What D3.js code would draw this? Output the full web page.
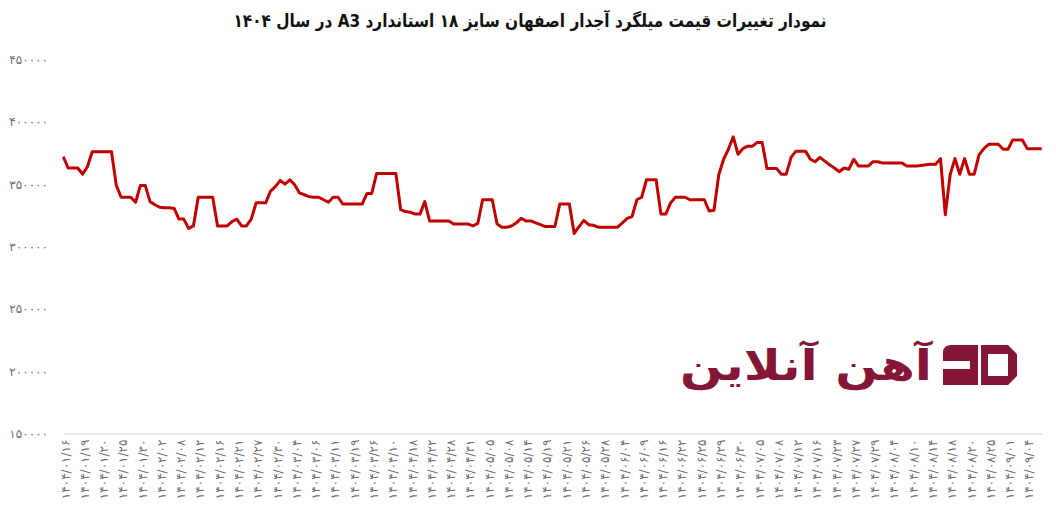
<!DOCTYPE html>
<html>
<head>
<meta charset="utf-8">
<script src="https://cdn.jsdelivr.net/npm/d3@7"></script>
<style>
  html, body { margin: 0; padding: 0; background: #ffffff; }
  svg { display: block; }
</style>
</head>
<body>
<svg id="chart" width="1056" height="512"></svg>
<script>
// ---- data ----
const chartTitle = "نمودار تغییرات قیمت میلگرد آجدار اصفهان سایز ۱۸ استاندارد A3 در سال ۱۴۰۴";

// price series (Rial), one value per record
const prices = [
  372000, 363000, 363000, 363000, 358000, 364000, 376000, 376000, 376000, 376000,
  376000, 349000, 339500, 339500, 339500, 335500, 349000, 349000, 336000, 333500,
  331500, 331000, 331000, 330500, 322000, 322000, 314500, 316500, 339500, 339500,
  339500, 339500, 316500, 316500, 316500, 320000, 322000, 316500, 316500, 322000,
  335000, 335000, 335000, 344500, 348000, 353000, 350000, 353500, 349500, 343000,
  341500, 340000, 339500, 339500, 337500, 335500, 339500, 339500, 334000, 334000,
  334000, 334000, 334000, 342500, 342500, 358500, 358500, 358500, 358500, 358500,
  329500, 328000, 327500, 326000, 326000, 336000, 320500, 320500, 320500, 320500,
  320500, 318000, 318000, 318000, 318000, 316500, 318500, 337500, 337500, 337500,
  318000, 315500, 315500, 316500, 319000, 322500, 320500, 320500, 319000, 317500,
  316000, 316000, 316000, 334000, 334000, 334000, 310500, 316000, 321000, 317500,
  317000, 315500, 315500, 315500, 315500, 315500, 319000, 322500, 324000, 337500,
  339500, 353500, 353500, 353500, 326000, 326000, 335000, 339500, 339500, 339500,
  337500, 337500, 337500, 337500, 328500, 329000, 357500, 370000, 378000, 388000,
  374000, 378500, 380500, 380500, 383500, 383500, 362500, 362500, 362500, 358000,
  358000, 371500, 376500, 376500, 376500, 370000, 368000, 371500, 368500, 365500,
  363000, 360000, 363000, 362000, 370000, 364500, 364500, 364500, 368000, 368000,
  367000, 367000, 367000, 367000, 367000, 364500, 364500, 364500, 365000, 365500,
  366000, 366000, 370500, 325500, 357500, 370500, 358000, 370500, 358000, 358000,
  373500, 378500, 382000, 382000, 382000, 378000, 378000, 385500, 385500, 385500,
  378500, 378500, 378500, 378500
];

// one date label is shown for every 4th record
const tickEvery = 4;
const tickLabels = [
  "۱۴۰۴/۰۱/۱۶", "۱۴۰۴/۰۱/۱۹", "۱۴۰۴/۰۱/۲۰", "۱۴۰۴/۰۱/۲۵", "۱۴۰۴/۰۱/۳۰",
  "۱۴۰۴/۰۲/۰۲", "۱۴۰۴/۰۲/۰۸", "۱۴۰۴/۰۲/۱۲", "۱۴۰۴/۰۲/۱۶", "۱۴۰۴/۰۲/۲۱",
  "۱۴۰۴/۰۲/۲۷", "۱۴۰۴/۰۲/۳۰", "۱۴۰۴/۰۳/۰۴", "۱۴۰۴/۰۳/۰۶", "۱۴۰۴/۰۳/۱۱",
  "۱۴۰۴/۰۳/۱۹", "۱۴۰۴/۰۳/۲۶", "۱۴۰۴/۰۴/۱۰", "۱۴۰۴/۰۴/۱۸", "۱۴۰۴/۰۴/۲۲",
  "۱۴۰۴/۰۴/۲۸", "۱۴۰۴/۰۴/۳۱", "۱۴۰۴/۰۵/۰۵", "۱۴۰۴/۰۵/۰۸", "۱۴۰۴/۰۵/۱۴",
  "۱۴۰۴/۰۵/۱۹", "۱۴۰۴/۰۵/۲۱", "۱۴۰۴/۰۵/۲۶", "۱۴۰۴/۰۵/۲۸", "۱۴۰۴/۰۶/۰۴",
  "۱۴۰۴/۰۶/۰۹", "۱۴۰۴/۰۶/۱۶", "۱۴۰۴/۰۶/۲۲", "۱۴۰۴/۰۶/۲۵", "۱۴۰۴/۰۶/۲۹",
  "۱۴۰۴/۰۶/۳۰", "۱۴۰۴/۰۷/۰۵", "۱۴۰۴/۰۷/۰۸", "۱۴۰۴/۰۷/۱۲", "۱۴۰۴/۰۷/۱۶",
  "۱۴۰۴/۰۷/۲۳", "۱۴۰۴/۰۷/۲۷", "۱۴۰۴/۰۷/۲۹", "۱۴۰۴/۰۸/۰۴", "۱۴۰۴/۰۸/۱۰",
  "۱۴۰۴/۰۸/۱۴", "۱۴۰۴/۰۸/۱۸", "۱۴۰۴/۰۸/۲۰", "۱۴۰۴/۰۸/۲۵", "۱۴۰۴/۰۹/۰۱",
  "۱۴۰۴/۰۹/۰۴"
];

const yTicks = [150000, 200000, 250000, 300000, 350000, 400000, 450000];
const brandName = "آهن آنلاین";

// ---- drawing ----
const faDigits = "۰۱۲۳۴۵۶۷۸۹";
const toFa = v => String(v).replace(/\d/g, d => faDigits[+d]);

const svg = d3.select("#chart");
const FONT = "'DejaVu Sans', sans-serif";

const x = d3.scalePoint()
  .domain(d3.range(prices.length))
  .range([63.3, 1041.7]);

const y = d3.scaleLinear()
  .domain([150000, 450000])
  .range([433.5, 59.5]);

// title
svg.append("text")
  .attr("x", 530)
  .attr("y", 27)
  .attr("text-anchor", "middle")
  .attr("direction", "rtl")
  .attr("font-family", FONT)
  .attr("font-weight", "bold")
  .attr("font-size", 18)
  .attr("textLength", 593)
  .attr("lengthAdjust", "spacingAndGlyphs")
  .attr("fill", "#111111")
  .text(chartTitle);

// watermark logo
const logo = svg.append("g").attr("fill", "#861638");
logo.append("text")
  .attr("x", 806)
  .attr("y", 380)
  .attr("text-anchor", "middle")
  .attr("direction", "rtl")
  .attr("font-family", FONT)
  .attr("font-weight", "bold")
  .attr("font-size", 42)
  .attr("textLength", 252)
  .attr("lengthAdjust", "spacingAndGlyphs")
  .text(brandName);
// icon "a"
logo.append("path")
  .attr("d", "M951,345 L978,345 L978,385 L943,385 L943,369 L970,369 L970,361 L943,361 L943,353 Q943,345 951,345 Z");
// icon "D"
logo.append("path")
  .attr("fill-rule", "evenodd")
  .attr("d", "M981,345 L1008,345 L1017,354 L1017,376 L1008,385 L981,385 Z M988,354 L988,376 L1008,376 L1008,354 Z");

// y axis
const yAxis = d3.axisLeft(y)
  .tickValues(yTicks)
  .tickSize(0)
  .tickPadding(0)
  .tickFormat(toFa);
const gy = svg.append("g").attr("transform", "translate(48,0)").call(yAxis);
gy.select(".domain").remove();
gy.selectAll("text")
  .attr("font-family", FONT)
  .attr("font-size", 12)
  .attr("fill", "#6f6f6f");

// x axis
const xAxis = d3.axisBottom(x)
  .tickValues(d3.range(0, prices.length, tickEvery))
  .tickSize(0)
  .tickSizeOuter(0)
  .tickFormat(i => tickLabels[i / tickEvery]);
const gx = svg.append("g").attr("transform", "translate(0,433.5)").call(xAxis);
gx.select(".domain").attr("stroke", "#d9d9d9").attr("stroke-width", 1);
gx.selectAll("text")
  .attr("font-family", FONT)
  .attr("font-size", 12)
  .attr("fill", "#6f6f6f")
  .attr("transform", "rotate(-90)")
  .attr("text-anchor", "end")
  .attr("x", -6)
  .attr("y", 1.5)
  .attr("dy", "0.35em");

// line
const line = d3.line()
  .x((d, i) => x(i))
  .y(d => y(d));

svg.append("path")
  .datum(prices)
  .attr("fill", "none")
  .attr("stroke", "#c00000")
  .attr("stroke-width", 3)
  .attr("stroke-linejoin", "round")
  .attr("d", line);
</script>
</body>
</html>
